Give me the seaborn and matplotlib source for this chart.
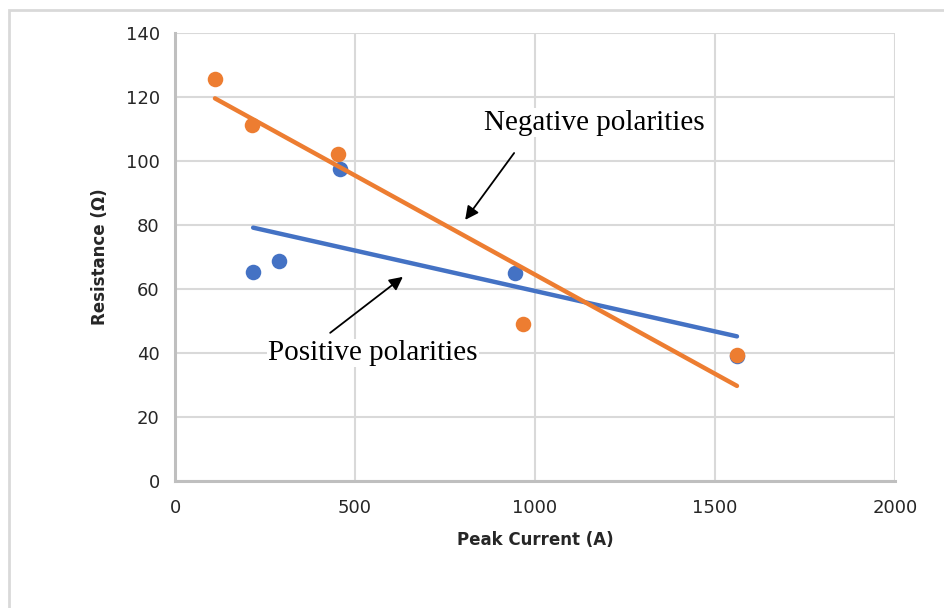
import matplotlib
matplotlib.use("Agg")
import matplotlib.pyplot as plt
from matplotlib.patches import Rectangle
import seaborn as sns
import pandas as pd

# data
pos_current = [217, 289, 458, 944, 1561]
pos_resistance = [65.3, 68.8, 97.5, 65.0, 39.0]
neg_current = [111, 214, 453, 967, 1561]
neg_resistance = [125.6, 111.3, 102.2, 49.0, 39.3]
x_ticks = [0, 500, 1000, 1500, 2000]
y_ticks = [0, 20, 40, 60, 80, 100, 120, 140]

pos = pd.DataFrame({"current": pos_current, "resistance": pos_resistance})
neg = pd.DataFrame({"current": neg_current, "resistance": neg_resistance})

sns.set_style("white")
plt.rcParams['font.family'] = ['DejaVu Sans']

fig = plt.figure(figsize=(9.45, 6.08), dpi=100)
ax = fig.add_axes([0.1852, 0.2089, 0.7619, 0.7368])

blue = "#4472C4"
orange = "#ED7D31"

sns.regplot(data=pos, x="current", y="resistance", ax=ax, ci=None, color=blue,
            scatter_kws={"s": 125, "alpha": 1, "linewidths": 0, "zorder": 3},
            line_kws={"lw": 3.2, "solid_capstyle": "round", "zorder": 4})
sns.regplot(data=neg, x="current", y="resistance", ax=ax, ci=None, color=orange,
            scatter_kws={"s": 125, "alpha": 1, "linewidths": 0, "zorder": 5},
            line_kws={"lw": 3.2, "solid_capstyle": "round", "zorder": 6})

ax.set_xlim(0, 2000)
ax.set_ylim(0, 140)
ax.set_xticks(x_ticks)
ax.set_yticks(y_ticks)
ax.grid(True, color="#d9d9d9", lw=1.5, zorder=0)
ax.set_axisbelow(True)
for s in ["top", "right"]:
    ax.spines[s].set_visible(False)
for s in ["left", "bottom"]:
    ax.spines[s].set_color("#bfbfbf")
    ax.spines[s].set_linewidth(2.2)
ax.tick_params(axis="both", length=5, width=2, color="#bfbfbf",
               labelsize=13, labelcolor="#262626", direction="out")
ax.tick_params(axis="x", pad=8)
ax.tick_params(axis="y", pad=6)

ax.set_xlabel("Peak Current (A)", fontsize=12, fontweight="bold", labelpad=10)
ax.set_ylabel("Resistance (Ω)", fontsize=12, fontweight="bold", labelpad=12)

# annotations
serif = ["Liberation Serif", "DejaVu Serif"]
box = dict(boxstyle="square,pad=0.05", fc="white", ec="none")
ax.text(1164, 111.9, "Negative polarities", ha="center", va="center",
        fontsize=21, family=serif, color="black", bbox=box, zorder=7)
ax.text(550, 40.0, "Positive polarities", ha="center", va="center",
        fontsize=21, family=serif, color="black", bbox=box, zorder=7)
arrow = dict(arrowstyle="-|>", color="black", lw=1.3, mutation_scale=20,
             shrinkA=0, shrinkB=0)
ax.annotate("", xy=(806, 81.6), xytext=(942, 102.5), arrowprops=arrow, zorder=8)
ax.annotate("", xy=(633, 63.8), xytext=(431, 46.3), arrowprops=arrow, zorder=8)

# outer chart border (only left and top visible)
fig.patches.append(Rectangle((0.0095, -0.05), 1.1, 0.0336 + 1.0, transform=fig.transFigure,
                             fill=False, ec="#d9d9d9", lw=2))

fig.savefig("out.png", dpi=100)
